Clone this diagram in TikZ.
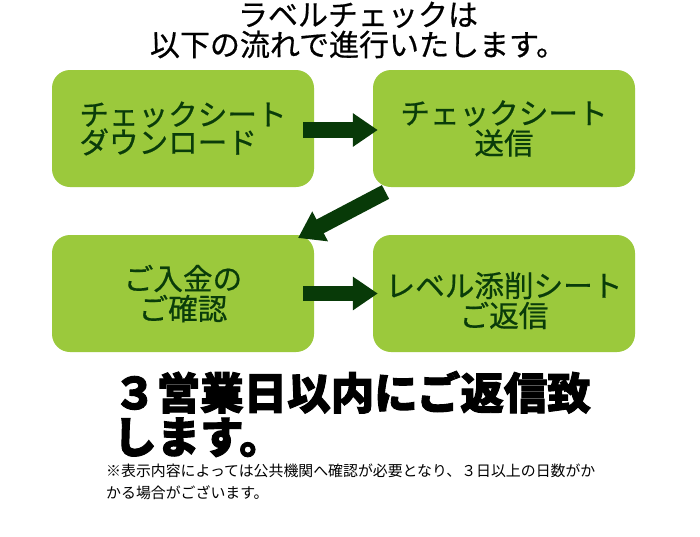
\documentclass[tikz,border=0pt]{standalone}
\usepackage{fontspec}
\setmainfont{Noto Sans CJK JP}
\newfontfamily\medfont[FakeBold=0.6]{Noto Sans CJK JP}
\newfontfamily\heavyfont[BoldFeatures={FakeBold=2.2}]{Noto Sans CJK JP}
\usetikzlibrary{arrows.meta,calc}
\definecolor{boxgreen}{RGB}{155,201,60}
\definecolor{darkgreen}{RGB}{10,60,10}
\definecolor{arrowgreen}{RGB}{8,58,8}
\begin{document}
\begin{tikzpicture}[x=1pt,y=-1pt,
  stepbox/.style={fill=boxgreen, rounded corners=18pt, minimum width=262pt, minimum height=117pt,
    text=darkgreen, font=\medfont\fontsize{29.6}{30}\selectfont, align=center, inner sep=0pt},
  steplabel/.style={text=darkgreen, font=\medfont\fontsize{29.6}{30}\selectfont, align=center, inner sep=0pt},
  flowarrow/.style={draw=arrowgreen, fill=arrowgreen, line width=15.5pt, -{Triangle[width=32pt,length=25pt]}},
  titletext/.style={font=\medfont\fontsize{30}{30}\selectfont, align=center, inner sep=0pt},
  bigtext/.style={font=\heavyfont\bfseries\fontsize{43.5}{44}\selectfont, align=left, anchor=west, inner sep=0pt},
  notetext/.style={font=\fontsize{14.9}{22}\selectfont, align=left, anchor=west, inner sep=0pt}
]
\useasboundingbox (0,0) rectangle (700,536);
\fill[white] (0,0) rectangle (700,536);

\node[titletext] (title) at (358,30) {ラベルチェックは\\以下の流れで進行いたします。};

\node[stepbox, align=left, font=\medfont\fontsize{29.6}{28}\selectfont] (b1) at (183,128.5) {チェックシート\\ダウンロード};
\node[stepbox] (b2) at (504,128.5) {チェックシート\\送信};
\node[stepbox] (b3) at (183,293.5) {ご入金の\\ご確認};
\node[stepbox] (b4) at (504,293.5) {};
\node[steplabel] (b4text) at ([yshift=-7pt]b4.center) {レベル添削シート\\ご返信};

\draw[flowarrow] ([xshift=-11pt,yshift=-1.5pt]b1.east) -- ([xshift=5pt,yshift=-1.5pt]b2.west);
\coordinate (d1) at (385.5,192);
\coordinate (d2) at (298,238);
\draw[flowarrow] (d1) -- (d2);
\draw[flowarrow] ([xshift=-11pt]b3.east) -- ([xshift=5pt]b4.west);

\node[bigtext] (big) at (113,414) {３営業日以内にご返信致\\します。};
\node[notetext] (note) at (106,482) {※表示内容によっては公共機関へ確認が必要となり、３日以上の日数がか\\かる場合がございます。};
\end{tikzpicture}
\end{document}
